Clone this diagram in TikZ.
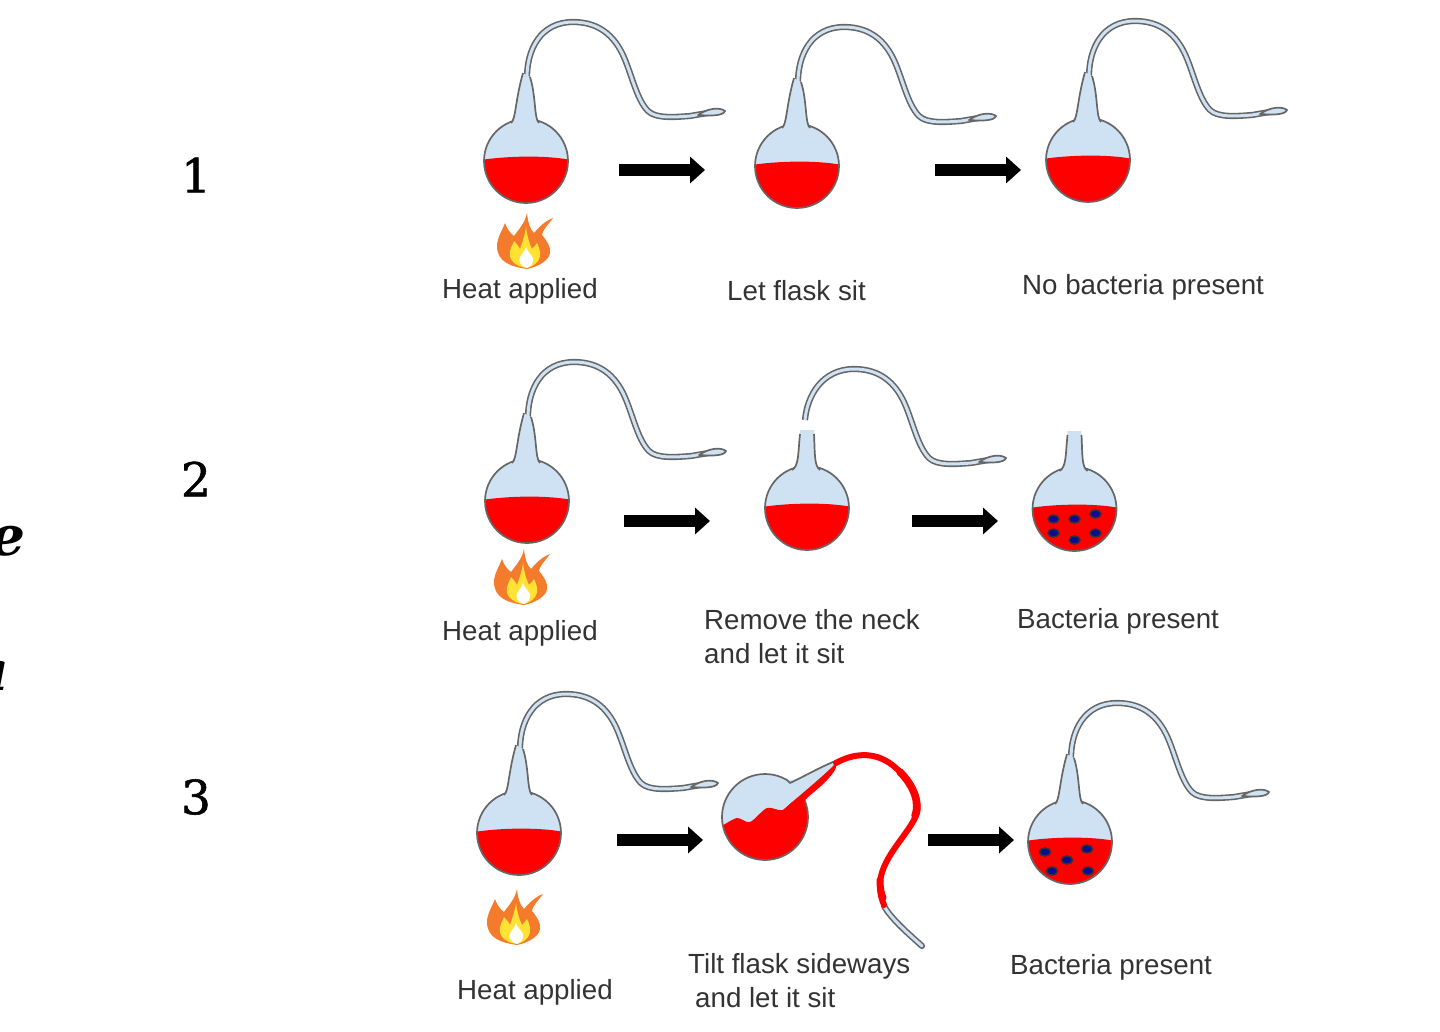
\documentclass[tikz,border=0pt]{standalone}
\usepackage{fontspec}
\setmainfont{Liberation Sans}
\newfontfamily\numfont[FakeBold=1.2]{DejaVu Serif}
\usetikzlibrary{arrows.meta}
\usetikzlibrary{positioning}
\definecolor{glassblue}{HTML}{CFE2F3}
\definecolor{glassline}{HTML}{666666}
\definecolor{broth}{HTML}{FF0000}
\definecolor{labelgray}{HTML}{333333}
\definecolor{flameorange}{HTML}{F47B2C}
\definecolor{flameyellow}{HTML}{FFE234}
\definecolor{germblue}{HTML}{0B0B96}
\tikzstyle{label}=[inner sep=0pt,text=labelgray,font=\fontsize{27.7}{33.5}\selectfont,anchor=base west]
\tikzstyle{rownum}=[inner sep=0pt,font=\numfont\fontsize{47}{50}\selectfont]
\tikzstyle{cutoff}=[inner sep=0pt,anchor=base east,font=\fontspec{DejaVu Serif}\bfseries\itshape\fontsize{55}{60}\selectfont]
\tikzstyle{glass}=[draw=glassline,line width=1.7pt,line join=round]
\tikzstyle{tube}=[draw=glassline,double=glassblue,double distance=3pt,line width=1.6pt,line cap=round]
\tikzstyle{bigarrow}=[line width=12.5pt,-{Triangle[length=15pt,width=26pt]}]
\tikzstyle{germ}=[draw=black!80,fill=germblue,line width=1.5pt]
\newcommand{\pipebody}{.. controls (0,-112) and (15,-139) .. (47,-139) .. controls (68,-139) and (85,-130) .. (96,-108) .. controls (105,-90) and (110,-62) .. (122,-50) .. controls (130,-42) and (150,-44) .. (164,-45) .. controls (170,-46) and (175,-47) .. (182,-48)}
\tikzset{
  pics/bulb/.style={code={
    \fill[glassblue] (0,0) circle (42);
    \begin{scope}
      \clip (0,0) circle (42);
      \fill[broth] (-45,-1) .. controls (-20,-5) and (20,-6) .. (45,-1) -- (45,45) -- (-45,45) -- cycle;
    \end{scope}
    \draw[glass] (0,0) circle (42);
  }},
  pics/pipeend/.style={code={
    \draw[glass,fill=glassblue] (172,-46) .. controls (182,-53) and (194,-54) .. (199,-50) .. controls (197,-45) and (185,-45) .. (172,-46) -- cycle;
  }},
  pics/flask/.style={code={
    \pic {bulb};
    \draw[tube] (1,-80) \pipebody;
    \pic {pipeend};
    \fill[glassblue] (-15,-36) .. controls (-10,-42) and (-11,-60) .. (-3,-88) -- (4,-84) .. controls (10,-66) and (8,-42) .. (13,-36) -- cycle;
    \draw[glass] (-15,-38) .. controls (-10,-42) and (-11,-60) .. (-3,-88);
    \draw[glass] (4,-84) .. controls (10,-66) and (8,-42) .. (13,-38);
  }},
  pics/brokenpipe/.style={code={
    \draw[tube,line cap=butt] (-2,-88) \pipebody;
    \pic {pipeend};
  }},
  pics/cutflask/.style={code={
    \pic {bulb};
    \fill[glassblue] (-15,-36) .. controls (-8,-42) and (-9,-55) .. (-7,-78) -- (7,-78) .. controls (8,-55) and (7,-42) .. (13,-36) -- cycle;
    \draw[glass] (-15,-38) .. controls (-8,-42) and (-9,-55) .. (-7,-74);
    \draw[glass] (7,-74) .. controls (8,-55) and (7,-42) .. (13,-38);
  }},
  pics/flame/.style={code={
    \fill[flameorange] (2,28) .. controls (-12,26) and (-28,22) .. (-28,5) .. controls (-28,-3) and (-23,-10) .. (-20,-18) .. controls (-18,-12) and (-15,-8) .. (-11,-5) .. controls (-6,-12) and (0,-18) .. (2,-28) .. controls (3,-18) and (5,-12) .. (9,-8) .. controls (14,-14) and (20,-20) .. (28,-23) .. controls (22,-15) and (17,-10) .. (17,-6) .. controls (22,0) and (26,6) .. (25,12) .. controls (24,20) and (12,26) .. (2,28) -- cycle;
    \fill[flameyellow] (2,27) .. controls (-8,26) and (-17,20) .. (-15,10) .. controls (-14,6) and (-12,3) .. (-11,0) .. controls (-8,3) and (-6,6) .. (-5,8) .. controls (-3,2) and (0,-6) .. (1,-14) .. controls (2,-6) and (4,2) .. (7,8) .. controls (9,6) and (11,4) .. (12,2) .. controls (16,10) and (16,16) .. (13,20) .. controls (10,24) and (6,26) .. (2,27) -- cycle;
    \fill[white] (2,27) .. controls (-4,25) and (-7,21) .. (-5,16) .. controls (-3,13) and (0,10) .. (1,6) .. controls (2,10) and (6,13) .. (8,17) .. controls (9,22) and (6,25) .. (2,27) -- cycle;
  }}
}
\begin{document}
\begin{tikzpicture}[x=1pt,y=-1pt]
\useasboundingbox (0,0) rectangle (1440,1031);

% row numbers and the cut letters at the left edge
\node [rownum] (n1) at (196,175) {1};
\node [rownum] (n2) at (196,479) {2};
\node [rownum] (n3) at (196,797) {3};
\node [cutoff] (cuta) at (26,555) {e};
\node [cutoff] (cutb) at (9,690) {a};

% flask centres
\coordinate (f11) at (526,161);
\coordinate (f12) at (797,166);
\coordinate (f13) at (1088,160);
\coordinate (f21) at (527,501);
\coordinate (f22) at (807,508);
\coordinate (f23) at (1074.5,509);
\coordinate (f31) at (519,833);
\coordinate (f33) at (1070,842);

\pic at (f11) {flask};
\pic at (f12) {flask};
\pic at (f13) {flask};
\pic at (f21) {flask};
\pic at (f31) {flask};
\pic at (f33) {flask};
\pic at (f22) {cutflask};
\pic at (f22) {brokenpipe};
\pic at (f23) {cutflask};

% bacteria
\foreach \x/\y in {-21/10,0/10,21/5,-21/24,0/31,21/24}
  \draw[germ] ([xshift=\x,yshift=-\y]f23) ellipse (5.5 and 4);
\foreach \x/\y in {-25/10,-3/18,17/7,-18/29,18/29}
  \draw[germ] ([xshift=\x,yshift=-\y]f33) ellipse (5.5 and 4);

% tilted flask
\coordinate (tilt) at (765,817);
\fill[glassblue] (tilt) circle (43);
\begin{scope}
  \clip (tilt) circle (43);
  \fill[broth] plot[smooth] coordinates {(722,826) (737,818) (750,822) (767,808) (783,810) (797,796)} -- (815,800) -- (815,865) -- (720,865) -- cycle;
\end{scope}
\draw[glass] (tilt) circle (43);
\fill[glassblue] (787,780) .. controls (805,780) and (820,767) .. (840,759) -- (835,768) -- (795,800) -- (783,808) -- cycle;
\fill[broth] (783,810) .. controls (800,795) and (825,775) .. (838,761) -- (835,770) .. controls (825,785) and (815,790) .. (805,800) -- (800,815) -- cycle;
\draw[glass] (787,780) -- (790,783) .. controls (805,776) and (820,767) .. (840,759) .. controls (850,755) and (865,751) .. (880,756);
\draw[tube] (884,906) .. controls (892,920) and (910,935) .. (922,946);
\draw[draw=broth,line width=6pt,line cap=round] (836,763) .. controls (850,755) and (875,748) .. (897,769) .. controls (915,785) and (922,805) .. (915,818) .. controls (905,838) and (880,860) .. (880,885) .. controls (880,895) and (882,900) .. (884,905);
\draw[draw=broth,line width=7.5pt,line cap=round] (900,772) .. controls (914,786) and (920,803) .. (915,816);
\draw[draw=broth,line width=7pt,line cap=round] (880,880) .. controls (880,888) and (881,893) .. (883,898);

% arrows
\coordinate (a1a) at (619,170); \coordinate (a1b) at (705,170);
\coordinate (a2a) at (935,170); \coordinate (a2b) at (1021,170);
\coordinate (a3a) at (624,521); \coordinate (a3b) at (710,521);
\coordinate (a4a) at (912,521); \coordinate (a4b) at (998,521);
\coordinate (a5a) at (617,840); \coordinate (a5b) at (703,840);
\coordinate (a6a) at (928,840); \coordinate (a6b) at (1014,840);
\foreach \i in {1,...,6}
  \draw[bigarrow] (a\i a) -- (a\i b);

% flames
\pic at (525,241) {flame};
\pic at (522,577) {flame};
\pic at (515,917) {flame};

% labels
\node [label] (l11) at (442,298) {Heat applied};
\node [label] (l12) at (727,300) {Let flask sit};
\node [label] (l13) at (1022,294) {No bacteria present};
\node [label] (l21) at (442,640) {Heat applied};
\node [label] (l22) at (704,629) {Remove the neck};
\node [label] (l22b) at (704,663) {and let it sit};
\node [label] (l23) at (1017,628) {Bacteria present};
\node [label] (l31) at (457,999) {Heat applied};
\node [label] (l32) at (688,973) {Tilt flask sideways};
\node [label] (l32b) at (695,1007) {and let it sit};
\node [label] (l33) at (1010,974) {Bacteria present};
\end{tikzpicture}
\end{document}
